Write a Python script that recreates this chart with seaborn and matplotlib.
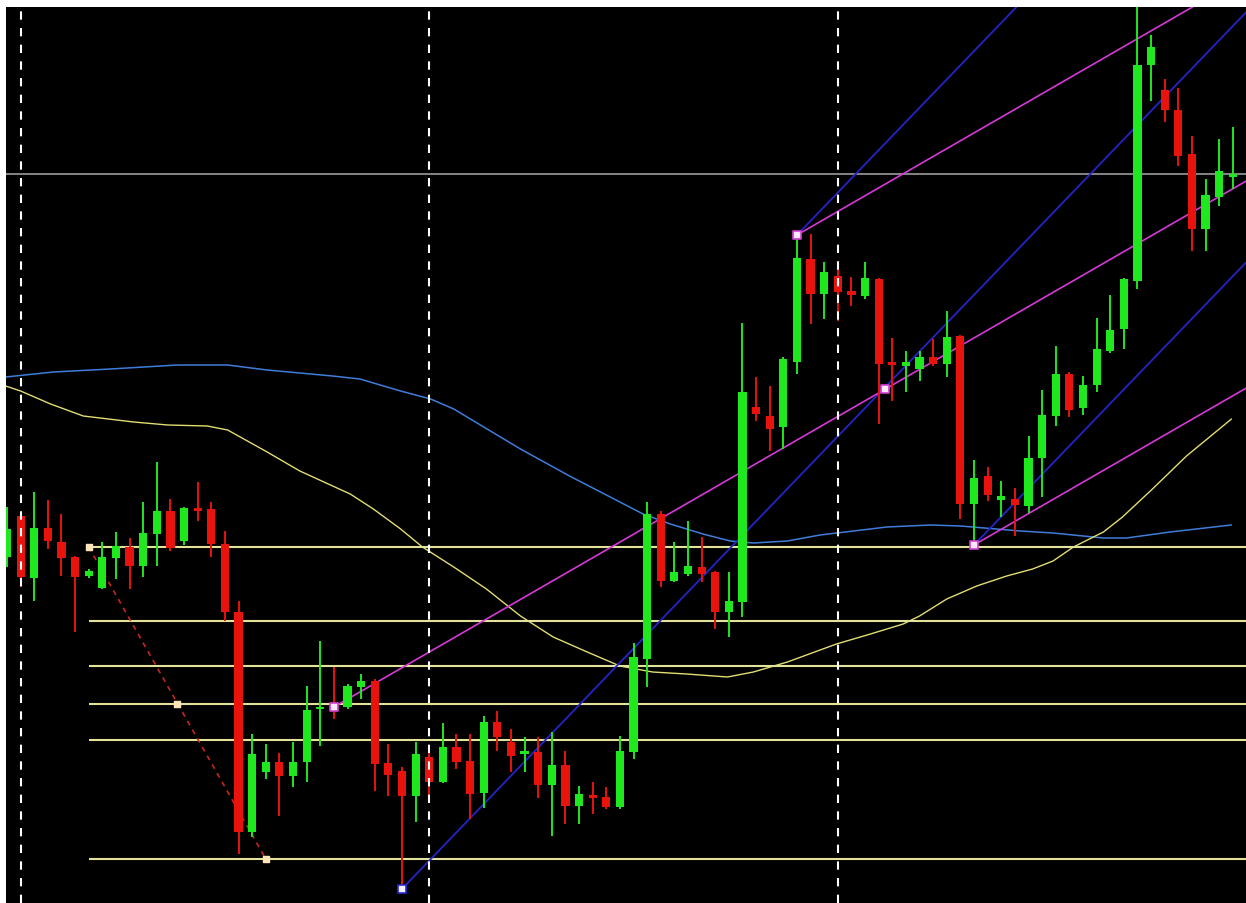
import matplotlib
matplotlib.use("Agg")
import matplotlib.pyplot as plt
import numpy as np
import pandas as pd
import seaborn as sns

# candle prices, in screen units (smaller value = higher price)
opens = [558, 517, 579, 529, 543, 558, 577, 589, 559, 548,
         567, 535, 512, 542, 509, 510, 545, 613, 833, 773,
         763, 777, 763, 710, 706, 708, 688, 682, 764, 772,
         797, 758, 783, 748, 762, 794, 723, 743, 755, 753,
         786, 766, 807, 796, 798, 808, 753, 660, 515, 582,
         575, 568, 573, 613, 603, 408, 417, 428, 363, 260,
         295, 277, 292, 297, 280, 363, 367, 370, 358, 365,
         337, 505, 477, 501, 500, 507, 459, 417, 375, 409,
         386, 352, 330, 282, 66, 91, 111, 155, 230, 198, 178]
highs = [508, 512, 493, 501, 515, 557, 570, 543, 533, 539,
         503, 463, 500, 508, 483, 503, 532, 602, 735, 745,
         754, 743, 687, 642, 668, 685, 675, 680, 745, 768,
         743, 748, 724, 735, 735, 717, 712, 730, 738, 738,
         733, 752, 787, 783, 788, 737, 644, 503, 512, 543,
         522, 538, 572, 573, 324, 378, 387, 358, 236, 235,
         263, 262, 278, 263, 279, 339, 352, 352, 340, 312,
         336, 461, 468, 482, 489, 437, 391, 347, 373, 377,
         319, 296, 279, 4, 36, 80, 89, 137, 180, 140, 128]
lows = [568, 588, 602, 550, 577, 633, 579, 590, 580, 590,
        578, 567, 552, 546, 522, 558, 622, 855, 838, 780,
        817, 788, 783, 747, 720, 710, 700, 792, 797, 890,
        823, 800, 784, 770, 820, 809, 752, 773, 773, 799,
        837, 825, 825, 815, 810, 810, 760, 688, 588, 583,
        577, 583, 630, 638, 618, 422, 452, 450, 375, 325,
        320, 322, 307, 300, 425, 402, 393, 382, 367, 378,
        520, 546, 502, 518, 537, 514, 498, 427, 418, 416,
        393, 354, 350, 290, 102, 123, 167, 252, 252, 207, 190]
closes = [530, 578, 529, 542, 559, 578, 572, 558, 547, 567,
          534, 512, 549, 509, 512, 545, 613, 833, 755, 763,
          777, 763, 711, 708, 712, 687, 682, 765, 776, 797,
          755, 783, 748, 763, 795, 723, 738, 757, 752, 786,
          766, 807, 795, 799, 808, 752, 658, 515, 582, 573,
          567, 575, 613, 602, 393, 415, 430, 360, 259, 295,
          273, 293, 296, 279, 365, 366, 363, 358, 365, 338,
          505, 479, 496, 497, 506, 459, 416, 375, 411, 386,
          350, 331, 280, 66, 48, 111, 157, 230, 196, 172, 175]

# slow moving average (blue) sampled along the chart: bar index, level
ma_slow_x = [-0.1, 3.4, 7.6, 12.5, 16.2, 19.1, 23.9, 25.9, 28.9, 31.1,
             32.8, 37.7, 41.3, 45.0, 46.7, 48.7, 51.1, 53.1, 54.8, 57.3,
             59.7, 64.6, 67.8, 70.0, 74.4, 76.8, 80.5, 82.2, 85.4, 88.6, 89.9]
ma_slow_y = [378, 373, 370, 366, 366, 371, 377, 380, 392, 400,
             410, 450, 477, 503, 515, 525, 535, 542, 544, 542,
             536, 528, 526, 527, 532, 534, 539, 539, 533, 528, 526]

# faster moving average (yellow)
ma_fast_x = [-0.1, 1.0, 3.2, 5.6, 9.3, 11.8, 14.7, 16.2, 19.1, 21.5,
             25.2, 26.9, 28.9, 30.5, 32.8, 35.2, 37.7, 40.1, 42.6, 45.0,
             47.4, 49.9, 52.9, 54.8, 57.3, 59.7, 60.9, 63.4, 65.8, 67.0,
             69.0, 71.2, 73.4, 75.3, 76.8, 78.3, 80.5, 81.9, 84.1, 86.6, 89.9]
ma_fast_y = [387, 392, 405, 417, 423, 426, 427, 431, 453, 472,
             495, 510, 530, 548, 568, 590, 617, 638, 653, 667,
             673, 675, 678, 673, 663, 651, 645, 635, 625, 617,
             600, 587, 577, 570, 562, 548, 533, 518, 490, 457, 420]

# fibonacci retracement
fib_start = (6.0, 548)
fib_end = (19.0, 860)
fib_mid = (12.5, 705)
fib_levels = [548, 622, 667, 705, 741, 860]

# channels: magenta (anchor + second point), blue (anchor + second point)
magenta_a = (24.0, 708)
magenta_b = (64.5, 390)
magenta_starts = [(24.0, 708), (58.0, 236), (71.0, 546)]
blue_a = (29.0, 890)
blue_b = (70.0, 310)
blue_starts = [(29.0, 890), (58.0, 236), (71.0, 546)]

separators = [1, 31, 61]
price_line = 175

# screen layout: 1246x904 with white strip on top and left
W, H = 1246, 904
px0, step = 7, 13.62
x_left = (6 - px0) / step
x_right = (W - px0) / step

sns.set_style("dark")
fig = plt.figure(figsize=(W / 100, H / 100), dpi=100, facecolor="white")
ax = fig.add_axes([6 / W, 0, (W - 6) / W, (H - 8) / H])
ax.set_facecolor("black")
ax.set_xlim(x_left, x_right)
ax.set_ylim(H, 8)
ax.set_xticks([])
ax.set_yticks([])
for s in ax.spines.values():
    s.set_visible(False)

lw = 1.1

# current price line
ax.axhline(price_line, color="#a9a9a9", lw=lw, zorder=1)

# moving averages
slow = pd.DataFrame({"i": ma_slow_x, "y": ma_slow_y})
fast = pd.DataFrame({"i": ma_fast_x, "y": ma_fast_y})
sns.lineplot(data=slow, x="i", y="y", ax=ax, color="#3f7ddb", lw=lw, sort=False, estimator=None, zorder=2)
sns.lineplot(data=fast, x="i", y="y", ax=ax, color="#e4df72", lw=lw * 0.9, sort=False, estimator=None, zorder=2)
ax.set_xlabel("")
ax.set_ylabel("")

# fibonacci levels
ax.hlines(fib_levels, fib_start[0], x_right, color="#e2e29a", lw=1.5, zorder=2)
ax.plot([fib_start[0], fib_end[0]], [fib_start[1], fib_end[1]], color="#c8281c",
        lw=1.2, ls=(0, (3, 3)), zorder=3)

# channel rays
def draw_rays(starts, a, b, color, width):
    slope = (b[1] - a[1]) / (b[0] - a[0])
    for x0, y0 in starts:
        ax.plot([x0, x_right], [y0, y0 + slope * (x_right - x0)], color=color, lw=width, zorder=3)

draw_rays(blue_starts, blue_a, blue_b, "#2424c8", 1.3)
draw_rays(magenta_starts, magenta_a, magenta_b, "#d63ad6", 1.2)

# candles
idx = np.arange(len(opens))
o = np.array(opens)
c = np.array(closes)
up = c < o
colors = np.where(up, "#1fe81f", "#e8130d")
ax.vlines(idx, highs, lows, colors=colors, lw=1.4, zorder=4)
body_h = np.maximum(np.abs(o - c), 2.5)
ax.bar(idx, body_h, bottom=np.minimum(o, c) - (body_h - np.abs(o - c)) / 2,
       width=0.6, color=colors, linewidth=0, zorder=5)

# anchor markers
mx = [magenta_starts[0][0], magenta_b[0], magenta_starts[1][0], magenta_starts[2][0]]
my = [magenta_starts[0][1], magenta_b[1], magenta_starts[1][1], magenta_starts[2][1]]
ax.scatter(mx, my, marker="s", s=30, facecolor="#ffe6ff", edgecolor="#d040d0", lw=1.2, zorder=6)
ax.scatter([blue_a[0]], [blue_a[1]], marker="s", s=30, facecolor="#f0f0ff", edgecolor="#2a2ad8", lw=1.2, zorder=6)
ax.scatter([fib_start[0], fib_mid[0], fib_end[0]], [fib_start[1], fib_mid[1], fib_end[1]],
           marker="s", s=22, facecolor="#ffe4b8", edgecolor="#ffe4b8", zorder=6)

# period separators
for sx in separators:
    ax.axvline(sx, color="white", lw=1.5, ls=(0, (4, 4)), zorder=7)

fig.savefig("out.png", dpi=100, facecolor="white")
